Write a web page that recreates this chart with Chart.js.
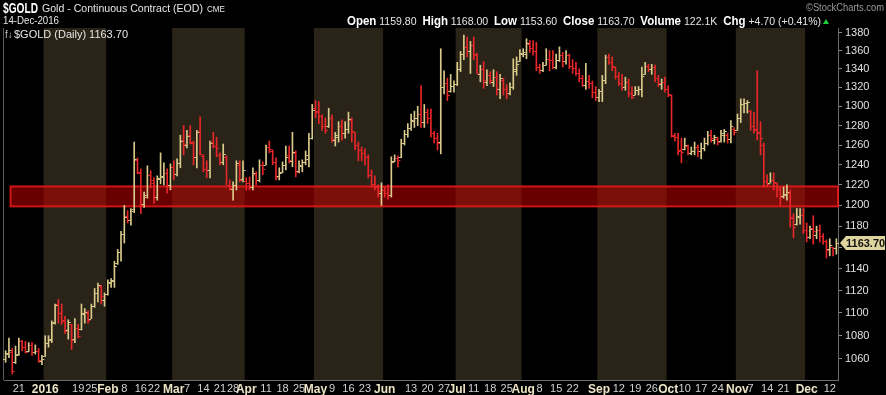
<!DOCTYPE html>
<html>
<head>
<meta charset="utf-8">
<script src="https://cdn.jsdelivr.net/npm/chart.js@4.4.1/dist/chart.umd.min.js"></script>
<style>
  html, body { margin: 0; padding: 0; background: #000; }
  canvas { display: block; }
</style>
</head>
<body>
<canvas id="chart-box" width="886" height="395"></canvas>
<script>
// trading calendar
const firstDay = "2015-12-15";
const lastDay = "2016-12-14";
const holidays = ["2015-12-25", "2016-01-01", "2016-01-18", "2016-02-15", "2016-03-25",
  "2016-05-30", "2016-07-04", "2016-09-05", "2016-11-24"];

// daily OHLC, Dec 2015 .. Dec 2016 (one line per month)
const openPrices = [
  1060,1064,1066,1057,1064,1075,1070,1067,1072,1066,1067,1058,
  1062,1074,1077,1092,1108,1100,1094,1085,1090,1077,1087,1086,1099,1100,1095,1106,1118,1124,1112,
  1117,1127,1129,1145,1156,1173,1190,1186,1196,1245,1232,1201,1210,1230,1222,1208,1226,1228,1232,1220,
  1238,1231,1242,1265,1260,1270,1262,1248,1274,1249,1236,1235,1263,1259,1250,1243,1248,1220,1216,1220,1240,1226,
  1224,1222,1218,1231,1225,1240,1240,1258,1254,1243,1229,1233,1240,1250,1244,1252,1234,1239,1243,1246,1267,
  1298,1295,1290,1280,1279,1288,1265,1268,1280,1272,1276,1286,1273,1260,1255,1252,1248,1230,1221,1218,1212,
  1215,1212,1210,1244,1247,1248,1262,1271,1277,1285,1288,1292,1284,1294,1288,1272,1267,1263,1320,1325,1316,1322,
  1324,1340,1356,1364,1360,1366,1355,1334,1340,1326,1333,1326,1331,1318,1328,1318,1314,1320,1338,1348,
  1356,1356,1367,1363,1360,1342,1339,1344,1351,1350,1342,1350,1355,1349,1355,1343,1341,1336,1330,1323,1327,1325,1315,
  1310,1316,1328,1353,1347,1342,1332,1325,1320,1326,1314,1312,1317,1318,1334,1343,1340,1342,1330,1324,1326,
  1318,1312,1270,1268,1255,1256,1259,1252,1254,1258,1254,1257,1262,1270,1265,1266,1264,1270,1270,1266,1276,
  1275,1288,1302,1303,1295,1280,1276,1272,1260,1224,1222,1225,1222,1216,1209,1210,1212,1188,1182,1189,1191,
  1176,1170,1178,1172,1176,1171,1166,1158,1160,1159.8
];
const highPrices = [
  1067,1078,1069,1071,1078,1076,1075,1074,1074,1072,1069,1063,
  1080,1080,1093,1108,1112,1108,1097,1094,1090,1095,1090,1108,1104,1102,1108,1122,1127,1125,1118,
  1130,1131,1147,1158,1175,1200,1195,1197,1263,1247,1236,1213,1239,1234,1227,1229,1252,1242,1236,1241,
  1244,1246,1270,1280,1275,1280,1264,1275,1289,1250,1244,1264,1273,1268,1252,1261,1249,1225,1223,1244,1244,1244,
  1227,1228,1237,1233,1245,1243,1260,1264,1255,1247,1237,1243,1259,1259,1273,1254,1244,1245,1254,1272,1302,
  1306,1305,1291,1288,1298,1291,1273,1284,1286,1284,1294,1288,1273,1263,1258,1256,1250,1235,1229,1220,1222,
  1218,1220,1248,1250,1249,1266,1275,1282,1292,1295,1300,1322,1302,1297,1297,1274,1272,1362,1338,1330,1334,1327,
  1347,1359,1377,1375,1370,1375,1357,1344,1348,1339,1337,1339,1337,1334,1330,1323,1325,1351,1353,1361,
  1362,1373,1371,1371,1369,1345,1347,1362,1360,1360,1356,1364,1358,1360,1356,1350,1347,1340,1333,1346,1333,1327,1321,
  1318,1333,1355,1356,1353,1342,1336,1334,1331,1329,1321,1321,1321,1342,1347,1345,1345,1344,1333,1329,1331,
  1322,1312,1272,1272,1267,1267,1260,1258,1263,1260,1262,1267,1274,1275,1270,1268,1275,1276,1272,1285,1278,
  1292,1308,1308,1306,1296,1294,1338,1284,1262,1230,1232,1232,1222,1218,1218,1220,1215,1192,1197,1197,1197,
  1183,1180,1190,1180,1181,1173,1167,1168,1160,1168
];
const lowPrices = [
  1057,1061,1047,1056,1063,1067,1065,1066,1063,1064,1057,1055,
  1062,1070,1074,1090,1091,1090,1082,1077,1068,1074,1078,1085,1091,1091,1095,1105,1110,1108,1106,
  1116,1123,1123,1144,1147,1164,1183,1181,1193,1231,1192,1198,1207,1217,1202,1205,1221,1220,1212,1215,
  1225,1229,1237,1250,1257,1261,1240,1237,1250,1233,1227,1227,1257,1248,1240,1240,1220,1215,1205,1215,1223,1223,
  1215,1215,1215,1220,1223,1230,1240,1252,1240,1225,1225,1232,1235,1242,1238,1228,1232,1233,1240,1238,1266,
  1288,1282,1275,1272,1278,1263,1259,1263,1265,1267,1272,1263,1255,1244,1244,1240,1227,1218,1215,1208,1200,
  1208,1206,1208,1243,1238,1247,1260,1268,1275,1278,1280,1278,1278,1282,1268,1262,1255,1251,1313,1306,1315,1315,
  1322,1337,1350,1353,1335,1350,1335,1326,1319,1322,1324,1321,1312,1308,1312,1308,1312,1318,1333,1348,
  1353,1351,1358,1355,1338,1335,1337,1344,1338,1340,1340,1348,1342,1345,1340,1335,1333,1326,1321,1318,1319,1309,1306,
  1305,1305,1324,1345,1338,1329,1322,1317,1317,1310,1308,1312,1312,1310,1334,1337,1334,1326,1321,1318,1315,
  1310,1268,1264,1250,1242,1255,1250,1250,1250,1248,1246,1254,1260,1263,1261,1260,1263,1263,1262,1262,1270,
  1275,1283,1293,1293,1275,1272,1265,1250,1218,1218,1222,1215,1208,1200,1207,1205,1179,1169,1181,1182,1173,
  1165,1168,1163,1168,1165,1163,1150,1152,1152,1153.6
];
const closePrices = [
  1065,1068,1050,1063,1075,1070,1066,1072,1066,1067,1059,1060,
  1074,1076,1091,1107,1100,1093,1084,1092,1076,1087,1080,1100,1101,1094,1106,1118,1125,1115,1117,
  1128,1130,1143,1156,1173,1189,1186,1195,1246,1233,1200,1208,1230,1225,1208,1227,1229,1232,1220,1238,
  1231,1242,1264,1261,1269,1263,1248,1273,1251,1236,1235,1262,1259,1257,1243,1251,1220,1217,1220,1242,1225,1235,
  1222,1218,1232,1225,1240,1236,1258,1256,1243,1228,1232,1240,1248,1245,1253,1233,1240,1243,1250,1267,1296,
  1294,1290,1280,1275,1288,1266,1270,1280,1272,1276,1287,1274,1260,1255,1252,1248,1230,1221,1219,1214,1215,
  1212,1210,1243,1247,1245,1262,1271,1277,1286,1288,1292,1284,1294,1288,1272,1267,1262,1320,1325,1312,1322,1324,
  1340,1356,1364,1360,1366,1356,1336,1340,1328,1333,1328,1331,1318,1330,1318,1314,1320,1340,1345,1357,
  1358,1368,1363,1360,1342,1339,1344,1351,1350,1342,1350,1355,1349,1355,1343,1341,1336,1330,1323,1327,1325,1315,1310,
  1316,1328,1353,1347,1343,1332,1325,1320,1326,1314,1310,1317,1318,1332,1343,1340,1342,1330,1325,1326,1318,
  1313,1269,1268,1254,1253,1260,1252,1254,1258,1254,1257,1262,1270,1267,1268,1263,1272,1274,1266,1279,1273,
  1288,1302,1304,1305,1280,1275,1273,1267,1224,1221,1225,1223,1218,1208,1211,1213,1189,1179,1190,1191,1176,
  1170,1177,1175,1176,1171,1166,1157,1162,1159,1163.7
];
const lastVolume = "122.1K";

const yTicks = [1060, 1080, 1100, 1120, 1140, 1160, 1180, 1200, 1220, 1240, 1260, 1280, 1300, 1320, 1340, 1360, 1380];
const xTickLabels = [
  ["2015-12-21", "21"], ["2016-01-04", "2016"], ["2016-01-19", "19"], ["2016-01-25", "25"],
  ["2016-02-01", "Feb"], ["2016-02-08", "8"], ["2016-02-16", "16"], ["2016-02-22", "22"],
  ["2016-03-01", "Mar"], ["2016-03-07", "7"], ["2016-03-14", "14"], ["2016-03-21", "21"], ["2016-03-28", "28"],
  ["2016-04-01", "Apr"], ["2016-04-11", "11"], ["2016-04-18", "18"], ["2016-04-25", "25"],
  ["2016-05-02", "May"], ["2016-05-09", "9"], ["2016-05-16", "16"], ["2016-05-23", "23"],
  ["2016-06-01", "Jun"], ["2016-06-13", "13"], ["2016-06-20", "20"], ["2016-06-27", "27"],
  ["2016-07-01", "Jul"], ["2016-07-11", "11"], ["2016-07-18", "18"], ["2016-07-25", "25"],
  ["2016-08-01", "Aug"], ["2016-08-08", "8"], ["2016-08-15", "15"], ["2016-08-22", "22"],
  ["2016-09-01", "Sep"], ["2016-09-12", "12"], ["2016-09-19", "19"], ["2016-09-26", "26"],
  ["2016-10-03", "Oct"], ["2016-10-10", "10"], ["2016-10-17", "17"], ["2016-10-24", "24"],
  ["2016-11-01", "Nov"], ["2016-11-07", "7"], ["2016-11-14", "14"], ["2016-11-21", "21"],
  ["2016-12-01", "Dec"], ["2016-12-12", "12"]
];
const shadedMonths = ["2016-01", "2016-03", "2016-05", "2016-07", "2016-09", "2016-11"];
const supportZone = [1199, 1218.5];
const supportStart = "2015-12-17";

const upColor = "#dacb8c";
const downColor = "#e8262a";
const bandShade = "#2a2418";

function tradingDays() {
  const days = [];
  const d = new Date(firstDay + "T00:00:00Z");
  const end = new Date(lastDay + "T00:00:00Z");
  while (d <= end) {
    const iso = d.toISOString().slice(0, 10);
    const wd = d.getUTCDay();
    if (wd !== 0 && wd !== 6 && !holidays.includes(iso)) days.push(iso);
    d.setUTCDate(d.getUTCDate() + 1);
  }
  return days;
}

const dates = tradingDays();
const barColors = closePrices.map((c, i) => (i === 0 || c >= closePrices[i - 1]) ? upColor : downColor);

const tickText = {};
xTickLabels.forEach(([d, t]) => { tickText[dates.indexOf(d)] = t; });
const tickIndexes = Object.keys(tickText).map(Number);
const isMonthLabel = v => (tickText[v] || "").length > 2;

// squeeze a run of text pieces into a given width (stockcharts uses a narrow face)
function drawRun(ctx, parts, x, y, width) {
  let total = 0;
  parts.forEach(p => { ctx.font = p.font; total += ctx.measureText(p.text).width; });
  const sx = Math.min(1, width / total);
  ctx.save();
  ctx.translate(x, y);
  ctx.scale(sx, 1);
  let px = 0;
  parts.forEach(p => {
    ctx.font = p.font;
    ctx.fillStyle = p.color;
    ctx.fillText(p.text, px, 0);
    px += ctx.measureText(p.text).width;
  });
  ctx.restore();
  return x + px * sx;
}

const backdrop = {
  id: "backdrop",
  beforeDraw(chart) {
    const { ctx, chartArea: a, scales: { x } } = chart;
    ctx.save();
    ctx.fillStyle = "#000";
    ctx.fillRect(0, 0, chart.width, chart.height);
    const half = (x.getPixelForValue(1) - x.getPixelForValue(0)) / 2;
    ctx.fillStyle = bandShade;
    shadedMonths.forEach(m => {
      const first = dates.findIndex(d => d.startsWith(m));
      const last = dates.length - 1 - [...dates].reverse().findIndex(d => d.startsWith(m));
      const x0 = x.getPixelForValue(first) - half;
      const x1 = Math.min(x.getPixelForValue(last) + half, a.right);
      ctx.fillRect(x0, a.top, x1 - x0, a.bottom - a.top);
    });
    ctx.strokeStyle = "#5a5a5a";
    ctx.lineWidth = 1;
    ctx.beginPath();
    ctx.moveTo(a.left - 0.5, a.top);
    ctx.lineTo(a.left - 0.5, a.bottom);
    ctx.stroke();
    ctx.restore();
  },
  beforeDatasetsDraw(chart) {
    const { ctx, chartArea: a, scales: { x, y } } = chart;
    const half = (x.getPixelForValue(1) - x.getPixelForValue(0)) / 2;
    const x0 = x.getPixelForValue(dates.indexOf(supportStart)) - half;
    const yTop = y.getPixelForValue(supportZone[1]);
    const yBot = y.getPixelForValue(supportZone[0]);
    ctx.save();
    ctx.fillStyle = "rgba(190, 0, 0, 0.55)";
    ctx.fillRect(x0, yTop, a.right - x0, yBot - yTop);
    ctx.strokeStyle = "rgba(235, 25, 25, 0.85)";
    ctx.lineWidth = 2;
    ctx.strokeRect(x0, yTop, a.right - x0, yBot - yTop);
    ctx.restore();
  }
};

const ohlcTicks = {
  id: "ohlcTicks",
  afterDatasetsDraw(chart) {
    const { ctx, scales: { x, y } } = chart;
    ctx.save();
    closePrices.forEach((c, i) => {
      const px = x.getPixelForValue(i);
      ctx.fillStyle = barColors[i];
      ctx.fillRect(px - 2.5, Math.round(y.getPixelForValue(openPrices[i])), 2, 1);
      ctx.fillRect(px + 0.5, Math.round(y.getPixelForValue(c)), 2, 1);
    });
    ctx.restore();
  }
};

const header = {
  id: "header",
  afterDraw(chart) {
    const { ctx, chartArea: a, scales: { y } } = chart;
    const n = closePrices.length - 1;
    const last = closePrices[n];
    const chg = last - closePrices[n - 1];
    const pct = chg / closePrices[n - 1] * 100;
    const bold = "bold 12px 'Liberation Sans'";
    const reg = "11px 'Liberation Sans'";
    ctx.save();
    ctx.textBaseline = "alphabetic";

    drawRun(ctx, [{ text: "$GOLD", font: "bold 14px 'Liberation Sans'", color: "#fff" }], 3, 13, 35);
    drawRun(ctx, [{ text: "Gold - Continuous Contract (EOD)", font: reg, color: "#e6e6e6" }], 42, 12, 161);
    drawRun(ctx, [{ text: "CME", font: "9px 'Liberation Sans'", color: "#e6e6e6" }], 207, 12, 18);
    drawRun(ctx, [{ text: "14-Dec-2016", font: reg, color: "#e6e6e6" }], 3, 24, 56);
    drawRun(ctx, [{ text: "\u00a9StockCharts.com", font: "10px 'Liberation Sans'", color: "#9a9a9a" }], 806, 11, 78);

    const parts = [
      ["Open", 1], [" " + openPrices[n].toFixed(2) + "  ", 0],
      ["High", 1], [" " + highPrices[n].toFixed(2) + "  ", 0],
      ["Low", 1], [" " + lowPrices[n].toFixed(2) + "  ", 0],
      ["Close", 1], [" " + last.toFixed(2) + "  ", 0],
      ["Volume", 1], [" " + lastVolume + "  ", 0],
      ["Chg", 1], [" +" + chg.toFixed(2) + " (+" + pct.toFixed(2) + "%)", 0]
    ].map(([t, b]) => ({ text: t, font: b ? bold : reg, color: b ? "#fff" : "#e6e6e6" }));
    const endX = drawRun(ctx, parts, 347, 25, 474);
    ctx.fillStyle = "#1fcf3a";
    ctx.beginPath();
    ctx.moveTo(endX + 2, 24);
    ctx.lineTo(endX + 8, 24);
    ctx.lineTo(endX + 5, 19);
    ctx.closePath();
    ctx.fill();

    ctx.font = "10px 'Liberation Sans'";
    ctx.fillStyle = "#bbb";
    ctx.fillText("f\u2193", 5, 38);
    drawRun(ctx, [{ text: "$GOLD (Daily) " + last.toFixed(2), font: "11px 'Liberation Sans'", color: "#e6e6e6" }], 14, 38, 114);

    const ty = Math.round(y.getPixelForValue(last));
    const r = a.right + 2;
    ctx.fillStyle = "#ded59e";
    ctx.beginPath();
    ctx.moveTo(r, ty);
    ctx.lineTo(r + 6, ty - 7);
    ctx.lineTo(885, ty - 7);
    ctx.lineTo(885, ty + 7);
    ctx.lineTo(r + 6, ty + 7);
    ctx.closePath();
    ctx.fill();
    ctx.fillStyle = "#111";
    ctx.font = "bold 11px 'Liberation Sans'";
    ctx.textBaseline = "middle";
    ctx.fillText(last.toFixed(2), r + 6, ty + 1);
    ctx.restore();
  }
};

const ctx = document.getElementById("chart-box").getContext("2d");
const chart = new Chart(ctx, {
  type: "bar",
  data: {
    labels: dates,
    datasets: [{
      data: lowPrices.map((l, i) => [l, highPrices[i]]),
      backgroundColor: barColors,
      borderWidth: 0,
      barThickness: 1,
    }],
  },
  options: {
    responsive: false,
    devicePixelRatio: 1,
    animation: false,
    layout: { padding: { left: 4, top: 28, right: 0, bottom: 0 } },
    plugins: { legend: { display: false }, tooltip: { enabled: false } },
    scales: {
      x: {
        type: "category",
        offset: true,
        grid: { display: false, drawTicks: false },
        border: { display: true, color: "#6a6a6a", dash: [1, 2] },
        afterBuildTicks: s => { s.ticks = tickIndexes.map(v => ({ value: v })); },
        afterFit: s => { s.height = 15; },
        ticks: {
          autoSkip: false,
          maxRotation: 0,
          padding: 2,
          callback: v => tickText[v] || "",
          color: c => isMonthLabel(c.tick.value) ? "#ece3c4" : "#d2d2d2",
          font: c => isMonthLabel(c.tick.value)
            ? { family: "Liberation Sans", size: 12, weight: "bold" }
            : { family: "Liberation Sans", size: 11 },
        },
      },
      y: {
        type: "logarithmic",
        position: "right",
        min: 1042,
        max: 1385,
        afterBuildTicks: s => { s.ticks = yTicks.map(v => ({ value: v })); },
        afterFit: s => { s.width = 48; },
        grid: { drawOnChartArea: false, drawTicks: true, tickLength: 4, color: "#8a8a8a" },
        border: { display: true, color: "#6a6a6a", dash: [1, 2] },
        ticks: {
          autoSkip: false,
          padding: 3,
          color: "#e0e0e0",
          font: { family: "Liberation Sans", size: 11 },
          callback: v => String(v),
        },
      },
    },
  },
  plugins: [backdrop, ohlcTicks, header],
});
</script>
</body>
</html>
